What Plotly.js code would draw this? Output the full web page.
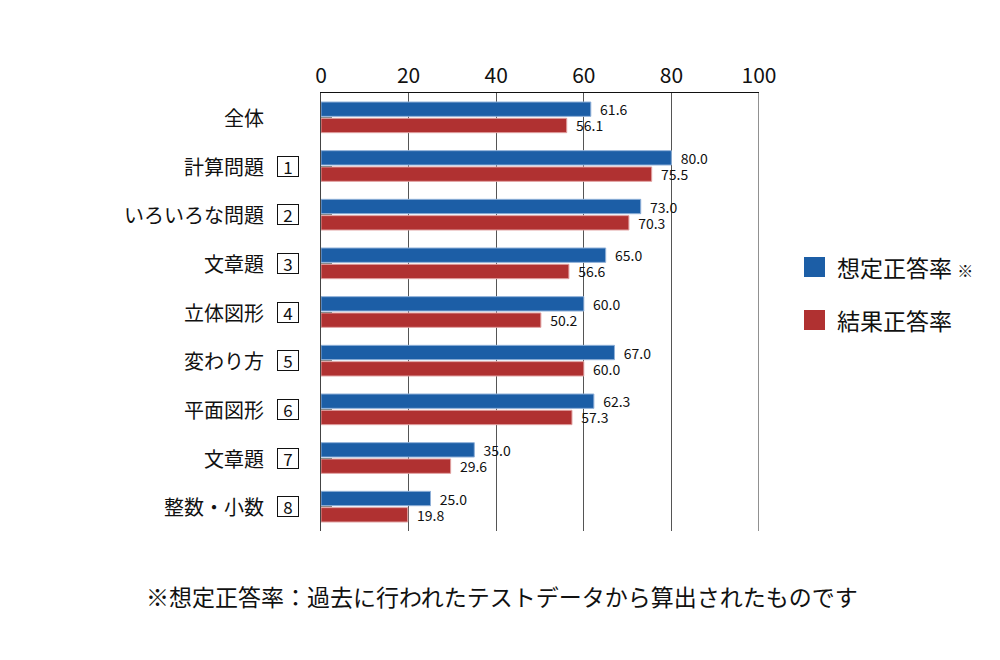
<!DOCTYPE html>
<html>
<head>
<meta charset="utf-8">
<script src="https://cdn.plot.ly/plotly-3.0.1.min.js"></script>
<style>
  html, body { margin: 0; padding: 0; background: #fff; }
  #chart { width: 1000px; height: 660px; }
</style>
</head>
<body>
<div id="chart"></div>
<script>
// Category names and their boxed question numbers ('' = no box)
const categories = ['全体', '計算問題', 'いろいろな問題', '文章題', '立体図形', '変わり方', '平面図形', '文章題', '整数・小数'];
const boxNumbers = ['', '1', '2', '3', '4', '5', '6', '7', '8'];

// Correct-answer rates (%)
const expectedRate = [61.6, 80.0, 73.0, 65.0, 60.0, 67.0, 62.3, 35.0, 25.0];
const actualRate   = [56.1, 75.5, 70.3, 56.6, 50.2, 60.0, 57.3, 29.6, 19.8];

// Series names
const seriesNames = ['想定正答率', '結果正答率'];
const legendSuffix = [' <span style="font-size:16px">※</span>', ''];

const xTicks = [0, 20, 40, 60, 80, 100];
const footnote = '※想定正答率：過去に行われたテストデータから算出されたものです';

// Unique keys so that the two 文章題 rows stay separate
const yKeys = categories.map((c, i) => c + '#' + i);

const FONT = 'Noto Sans CJK JP, Noto Sans, sans-serif';
const BLUE = '#1c5ea6';
const RED = '#b03131';

const barText = arr => arr.map(v => '  ' + v.toFixed(1));

const traces = [
  {
    type: 'bar', orientation: 'h', name: seriesNames[0],
    y: yKeys, x: expectedRate,
    text: barText(expectedRate), textposition: 'outside', constraintext: 'none',
    textfont: { family: FONT, size: 14, color: '#111' },
    marker: { color: BLUE, line: { color: '#8fb0d8', width: 1 } },
    cliponaxis: false, hoverinfo: 'x+name', showlegend: false
  },
  {
    type: 'bar', orientation: 'h', name: seriesNames[1],
    y: yKeys, x: actualRate,
    text: barText(actualRate), textposition: 'outside', constraintext: 'none',
    textfont: { family: FONT, size: 14, color: '#111' },
    marker: { color: RED, line: { color: '#e0a0a0', width: 1 } },
    cliponaxis: false, hoverinfo: 'x+name', showlegend: false
  }
];

// Plot area geometry (pixels) for placing paper-referenced items
const L = 321, R = 759, T = 93, B = 531;
const px = x => (x - L) / (R - L);
const py = y => (B - y) / (B - T);

const annotations = [];
const shapes = [];

// Row labels and boxed numbers
yKeys.forEach((k, i) => {
  annotations.push({
    xref: 'paper', yref: 'y', x: px(266), y: k,
    xanchor: 'right', yanchor: 'middle', showarrow: false,
    text: categories[i], font: { family: FONT, size: 20, color: '#111' }
  });
  if (boxNumbers[i]) {
    annotations.push({
      xref: 'paper', yref: 'y', x: px(287.5), y: k,
      xanchor: 'center', yanchor: 'middle', showarrow: false,
      text: boxNumbers[i], font: { family: FONT, size: 17, color: '#111' },
      width: 18, height: 17, borderpad: 1,
      bordercolor: '#111', borderwidth: 1, bgcolor: '#fff'
    });
  }
});

// Legend built from squares and labels
const legendColors = [BLUE, RED];
const legendCenters = [267, 320];
seriesNames.forEach((n, i) => {
  const cy = legendCenters[i];
  shapes.push({
    type: 'rect', xref: 'paper', yref: 'paper',
    x0: px(804), x1: px(825), y0: py(cy + 10), y1: py(cy - 10),
    fillcolor: legendColors[i], line: { width: 0 }
  });
  annotations.push({
    xref: 'paper', yref: 'paper', x: px(835), y: py(cy),
    xanchor: 'left', yanchor: 'middle', showarrow: false,
    text: n + legendSuffix[i], font: { family: FONT, size: 23, color: '#111' }
  });
});

// Right border of the plot area
shapes.push({
  type: 'line', xref: 'x', yref: 'paper', x0: 100, x1: 100, y0: 0, y1: 1,
  line: { color: '#222', width: 1 }
});

// Footnote
annotations.push({
  xref: 'paper', yref: 'paper', x: px(502), y: py(596),
  xanchor: 'center', yanchor: 'middle', showarrow: false,
  text: footnote, font: { family: FONT, size: 23, color: '#111' }
});

const layout = {
  width: 1000, height: 660,
  margin: { l: L, r: 1000 - R, t: T, b: 660 - B, pad: 0 },
  paper_bgcolor: '#fff', plot_bgcolor: '#fff',
  font: { family: FONT, color: '#111' },
  barmode: 'group', bargap: 0.33, bargroupgap: 0.12,
  showlegend: false,
  xaxis: {
    side: 'top', range: [0, 100], tickvals: xTicks, ticktext: xTicks.map(String),
    tickfont: { family: FONT, size: 21, color: '#111' },
    showgrid: true, gridcolor: '#555', gridwidth: 1,
    showline: true, linecolor: '#111', linewidth: 1,
    ticks: '', zeroline: false, fixedrange: true, ticklabelstandoff: 1
  },
  yaxis: {
    type: 'category', autorange: 'reversed',
    showticklabels: false, ticks: 'inside', ticklen: 11, tickwidth: 1, tickcolor: '#888',
    showline: true, linecolor: '#444', linewidth: 1,
    showgrid: false, zeroline: false, fixedrange: true
  },
  annotations: annotations,
  shapes: shapes
};

Plotly.newPlot('chart', traces, layout, { staticPlot: true });
</script>
</body>
</html>
